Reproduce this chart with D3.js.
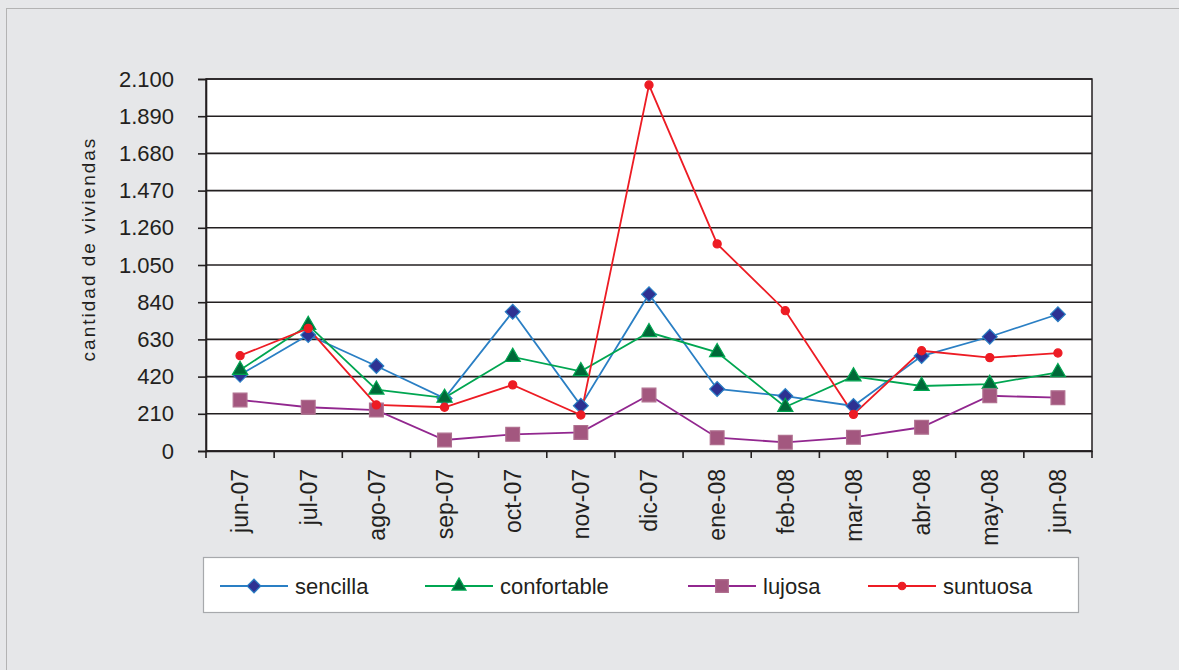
<!DOCTYPE html>
<html>
<head>
<meta charset="utf-8">
<script src="https://cdn.jsdelivr.net/npm/d3@7"></script>
<style>
  body { margin: 0; background: #e6e7e9; }
  text { font-family: "Liberation Sans", Arial, sans-serif; fill: #231f20; }
</style>
</head>
<body>
<svg id="mySvg"></svg>
<script>
const width = 1179;
const height = 670;

// data
const months = ["jun-07", "jul-07", "ago-07", "sep-07", "oct-07", "nov-07", "dic-07",
  "ene-08", "feb-08", "mar-08", "abr-08", "may-08", "jun-08"];
const sencilla = [430, 655, 480, 297, 786, 256, 885, 350, 310, 254, 536, 645, 772];
const confortable = [457, 711, 346, 300, 531, 450, 670, 557, 248, 421, 367, 378, 444];
const lujosa = [288, 247, 231, 62, 94, 105, 316, 75, 49, 77, 134, 312, 301];
const suntuosa = [538, 692, 260, 247, 373, 203, 2066, 1169, 792, 207, 566, 527, 553];
const yTicks = [0, 210, 420, 630, 840, 1050, 1260, 1470, 1680, 1890, 2100];

const series = [
  { name: "sencilla", values: sencilla, line: "#2a7fc4", fill: "#2e3192", stroke: "#2a7fc4", shape: d3.symbolSquare, size: 110, rotate: 45 },
  { name: "confortable", values: confortable, line: "#00a651", fill: "#006838", stroke: "#00a651", shape: d3.symbolTriangle, size: 100, rotate: 0 },
  { name: "lujosa", values: lujosa, line: "#92278f", fill: "#a3577f", stroke: "#b07090", shape: d3.symbolSquare, size: 190, rotate: 0 },
  { name: "suntuosa", values: suntuosa, line: "#ed1c24", fill: "#ed1c24", stroke: "#ed1c24", shape: d3.symbolCircle, size: 52, rotate: 0 }
];

const margin = { left: 206, right: 87, top: 79, bottom: 219 };

const svg = d3.select("#mySvg").attr("width", width).attr("height", height);

// outer frame
svg.append("rect")
  .attr("x", 6.5).attr("y", 8.5)
  .attr("width", width).attr("height", height)
  .attr("fill", "#e6e7e9").attr("stroke", "#b3b3b3");

const x = d3.scaleBand()
  .domain(months)
  .range([margin.left, width - margin.right]);

const y = d3.scaleLinear()
  .domain([0, 2100])
  .range([height - margin.bottom, margin.top]);

const locale = d3.formatLocale({ decimal: ",", thousands: ".", grouping: [3], currency: ["", ""] });
const fmt = locale.format(",");

// plot area
svg.append("rect")
  .attr("x", x.range()[0]).attr("y", y(2100))
  .attr("width", x.range()[1] - x.range()[0]).attr("height", y(0) - y(2100))
  .attr("fill", "#fff").attr("stroke", "#231f20").attr("stroke-width", 1.5);

// gridlines
svg.append("g")
  .selectAll("line")
  .data(yTicks)
  .enter()
  .append("line")
  .attr("x1", x.range()[0]).attr("x2", x.range()[1])
  .attr("y1", (d) => y(d)).attr("y2", (d) => y(d))
  .attr("stroke", "#231f20").attr("stroke-width", 1.6);

// y axis
const yAxis = svg.append("g")
  .attr("transform", `translate(${margin.left},0)`)
  .call(d3.axisLeft(y).tickValues(yTicks).tickFormat(fmt).tickSize(8).tickPadding(24));
yAxis.select(".domain").attr("stroke", "#231f20").attr("stroke-width", 1.6);
yAxis.selectAll(".tick line").attr("stroke", "#231f20").attr("stroke-width", 1.6);
yAxis.selectAll(".tick text")
  .attr("font-size", 22)
  .attr("fill", "#231f20")
  .style("font-family", "'Liberation Sans', Arial, sans-serif");

// x axis (tick marks sit on category boundaries)
const xAxis = svg.append("g")
  .attr("transform", `translate(0,${y(0)})`)
  .call(d3.axisBottom(x).tickSize(0).tickSizeOuter(0).tickPadding(0));
xAxis.select(".domain").attr("stroke", "#231f20").attr("stroke-width", 1.6);
xAxis.selectAll(".tick text")
  .attr("font-size", 23)
  .attr("fill", "#231f20")
  .style("font-family", "'Liberation Sans', Arial, sans-serif")
  .attr("text-anchor", "end")
  .attr("transform", "rotate(-90)")
  .attr("x", -18)
  .attr("y", 0)
  .attr("dy", "0.36em");

xAxis.append("g")
  .selectAll("line")
  .data(months.concat(["end"]))
  .enter()
  .append("line")
  .attr("x1", (d, i) => x.range()[0] + i * x.step())
  .attr("x2", (d, i) => x.range()[0] + i * x.step())
  .attr("y1", 0).attr("y2", 7)
  .attr("stroke", "#231f20").attr("stroke-width", 1.6);

// y axis title
svg.append("text")
  .attr("transform", `translate(95,${(y(0) + y(2100)) / 2 - 16}) rotate(-90)`)
  .attr("text-anchor", "middle")
  .attr("font-size", 19)
  .attr("letter-spacing", 2)
  .text("cantidad de viviendas");

// lines
const line = d3.line()
  .x((d, i) => x(months[i]) + x.bandwidth() / 2)
  .y((d) => y(d));

series.forEach((s) => {
  svg.append("path")
    .datum(s.values)
    .attr("fill", "none")
    .attr("stroke", s.line)
    .attr("stroke-width", 1.8)
    .attr("d", line);
});

// markers
series.forEach((s) => {
  const sym = d3.symbol().type(s.shape).size(s.size);
  svg.append("g")
    .selectAll("path")
    .data(s.values)
    .enter()
    .append("path")
    .attr("transform", (d, i) => `translate(${x(months[i]) + x.bandwidth() / 2},${y(d)}) rotate(${s.rotate})`)
    .attr("d", sym)
    .attr("fill", s.fill)
    .attr("stroke", s.stroke)
    .attr("stroke-width", 1.2);
});

// legend
const legend = svg.append("g");
legend.append("rect")
  .attr("x", 203.5).attr("y", 557.5)
  .attr("width", 875).attr("height", 55)
  .attr("fill", "#fff").attr("stroke", "#a7a9ac").attr("stroke-width", 1.2);

const legendX = [220, 425, 688, 868];
series.forEach((s, i) => {
  const g = legend.append("g").attr("transform", `translate(${legendX[i]},586)`);
  g.append("line")
    .attr("x1", 0).attr("x2", 68)
    .attr("stroke", s.line).attr("stroke-width", 1.8);
  g.append("path")
    .attr("transform", `translate(34,0) rotate(${s.rotate})`)
    .attr("d", d3.symbol().type(s.shape).size(s.size * 0.85)())
    .attr("fill", s.fill).attr("stroke", s.stroke).attr("stroke-width", 1.2);
  g.append("text")
    .attr("x", 75).attr("dy", "0.36em")
    .attr("font-size", 22)
    .text(s.name);
});
</script>
</body>
</html>
